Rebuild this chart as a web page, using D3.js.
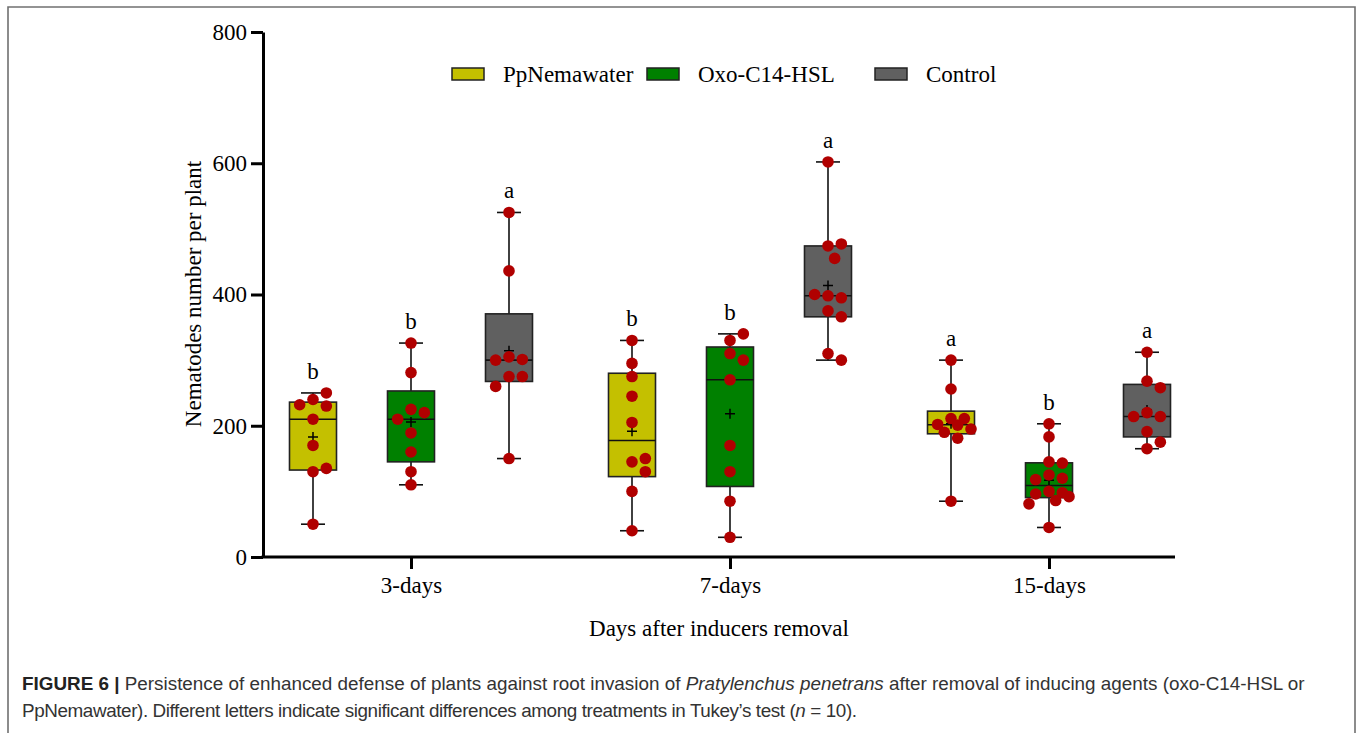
<!DOCTYPE html>
<html>
<head>
<meta charset="utf-8">
<script src="https://cdn.jsdelivr.net/npm/d3@7"></script>
<style>
  body { margin: 0; background: #fff; }
  svg text { font-family: "Liberation Serif", "Times New Roman", serif; }
</style>
</head>
<body>
<div id="chart"></div>
<script>
// categories
var days = ['3-days', '7-days', '15-days'];
var treatments = ['PpNemawater', 'Oxo-C14-HSL', 'Control'];
var yTicks = [0, 200, 400, 600, 800];

// nematodes per plant, one array per box
var pp3  = [240, 250, 232, 230, 210, 170, 130, 135, 50];
var oxo3 = [326, 281, 225, 220, 210, 189, 160, 130, 110];
var ctl3 = [525, 436, 305, 301, 300, 275, 275, 260, 150];
var pp7  = [330, 295, 275, 245, 205, 145, 150, 130, 100, 40];
var oxo7 = [330, 340, 310, 300, 270, 170, 130, 85, 30];
var ctl7 = [602, 474, 477, 455, 398, 395, 400, 375, 366, 310, 300];
var pp15  = [300, 256, 211, 211, 202, 201, 195, 190, 181, 85];
var oxo15 = [203, 183, 145, 143, 125, 120, 118, 100, 98, 96, 92, 86, 81, 45];
var ctl15 = [312, 268, 258, 220, 214, 214, 191, 175, 165];

// Tukey letters
var letters3  = ['b', 'b', 'a'];
var letters7  = ['b', 'b', 'a'];
var letters15 = ['a', 'b', 'a'];

var fills = ['#c4c000', '#008000', '#606060'];
var dotColor = '#b00000';

var groups = [
  {day: '3-days',  sets: [pp3, oxo3, ctl3],    letters: letters3},
  {day: '7-days',  sets: [pp7, oxo7, ctl7],    letters: letters7},
  {day: '15-days', sets: [pp15, oxo15, ctl15], letters: letters15}
];

var width = 1360, height = 733;
var fontSize = 23;

var svg = d3.select('#chart').append('svg')
    .attr('width', width)
    .attr('height', height);

var y = d3.scaleLinear().domain([0, 800]).range([557, 32]);
var xDay = d3.scalePoint().domain(days).range([411, 1049]);
var xTr = d3.scalePoint().domain(treatments).range([-98, 98]);

var boxW = 47, capW = 24;

// quartiles as GraphPad does them ((n+1)p rule)
function quart(s, p) {
    var n = s.length, h = (n + 1) * p - 1;
    if (h <= 0) return s[0];
    if (h >= n - 1) return s[n - 1];
    var lo = Math.floor(h);
    return s[lo] + (h - lo) * (s[lo + 1] - s[lo]);
}

// simple beeswarm, kept inside the box width
function swarm(vals, cx) {
    var step = 20 / 3, D = 12.5, placed = [];
    var offs = [0];
    for (var k = 1; k <= 3; k++) offs.push(k * step, -k * step);
    vals.forEach(function(v) {
        var py = y(v), best = null, bestD = -1;
        for (var i = 0; i < offs.length; i++) {
            var px = cx + offs[i];
            var md = d3.min(placed, function(p) { return Math.hypot(p.x - px, p.y - py); });
            if (md === undefined) md = Infinity;
            if (md >= D) { best = px; break; }
            if (md > bestD) { bestD = md; best = px; }
        }
        placed.push({x: best, y: py});
    });
    return placed;
}

// figure frame
svg.append('path')
    .attr('d', 'M8,733V7H1355V733')
    .attr('fill', 'none')
    .attr('stroke', '#707070')
    .attr('stroke-width', 1.6);

// boxes
var plot = svg.append('g');
groups.forEach(function(g) {
    g.sets.forEach(function(vals, i) {
        var cx = xDay(g.day) + xTr(treatments[i]);
        var s = vals.slice().sort(d3.ascending);
        var q1 = quart(s, 0.25), med = quart(s, 0.5), q3 = quart(s, 0.75);
        var lo = s[0], hi = s[s.length - 1], mean = d3.mean(s);
        var bg = plot.append('g');

        bg.append('line')
            .attr('x1', cx).attr('x2', cx)
            .attr('y1', y(hi)).attr('y2', y(lo))
            .attr('stroke', '#111').attr('stroke-width', 1.6);
        [lo, hi].forEach(function(v) {
            bg.append('line')
                .attr('x1', cx - capW / 2).attr('x2', cx + capW / 2)
                .attr('y1', y(v)).attr('y2', y(v))
                .attr('stroke', '#111').attr('stroke-width', 1.6);
        });
        bg.append('rect')
            .attr('x', cx - boxW / 2).attr('width', boxW)
            .attr('y', y(q3)).attr('height', y(q1) - y(q3))
            .attr('fill', fills[i])
            .attr('stroke', '#222').attr('stroke-width', 1.6);
        bg.append('line')
            .attr('x1', cx - boxW / 2).attr('x2', cx + boxW / 2)
            .attr('y1', y(med)).attr('y2', y(med))
            .attr('stroke', '#111').attr('stroke-width', 1.6);
        // mean
        bg.append('path')
            .attr('d', 'M' + (cx - 5) + ',' + y(mean) + 'h10M' + cx + ',' + (y(mean) - 5) + 'v10')
            .attr('stroke', '#000').attr('stroke-width', 1.5);

        bg.selectAll('circle')
            .data(swarm(vals, cx))
            .enter().append('circle')
            .attr('cx', function(d) { return d.x; })
            .attr('cy', function(d) { return d.y; })
            .attr('r', 5.8)
            .attr('fill', dotColor);

        bg.append('text')
            .attr('x', cx).attr('y', y(hi) - 14)
            .attr('text-anchor', 'middle')
            .attr('font-size', fontSize)
            .text(g.letters[i]);
    });
});

// axes
var yAxis = svg.append('g')
    .attr('transform', 'translate(263,0)')
    .call(d3.axisLeft(y).tickValues(yTicks).tickSize(12).tickSizeOuter(0).tickPadding(4).tickFormat(d3.format('d')));
yAxis.select('.domain').attr('stroke', '#000').attr('stroke-width', 3);
yAxis.selectAll('.tick line').attr('stroke', '#000').attr('stroke-width', 3);
yAxis.selectAll('.tick text').attr('font-size', fontSize).attr('fill', '#000')
    .attr('font-family', '"Liberation Serif", serif');

var xAxis = svg.append('g')
    .attr('transform', 'translate(0,557)')
    .call(d3.axisBottom(xDay).tickSize(12).tickPadding(8));
xAxis.select('.domain').remove();
xAxis.selectAll('.tick line').attr('stroke', '#000').attr('stroke-width', 3);
xAxis.selectAll('.tick text').attr('font-size', fontSize).attr('fill', '#000')
    .attr('font-family', '"Liberation Serif", serif');
svg.append('line')
    .attr('x1', 261.5).attr('x2', 1175)
    .attr('y1', 557).attr('y2', 557)
    .attr('stroke', '#000').attr('stroke-width', 3);

svg.append('text')
    .attr('transform', 'translate(201,294) rotate(-90)')
    .attr('text-anchor', 'middle')
    .attr('font-size', fontSize)
    .text('Nematodes number per plant');

svg.append('text')
    .attr('x', 719).attr('y', 636)
    .attr('text-anchor', 'middle')
    .attr('font-size', fontSize)
    .text('Days after inducers removal');

// legend
var legX = [452, 647, 875];
var legend = svg.append('g');
treatments.forEach(function(t, i) {
    legend.append('rect')
        .attr('x', legX[i]).attr('y', 68)
        .attr('width', 32).attr('height', 12)
        .attr('fill', fills[i])
        .attr('stroke', '#222').attr('stroke-width', 1.5);
    legend.append('text')
        .attr('x', legX[i] + 51).attr('y', 82)
        .attr('font-size', fontSize)
        .text(t);
});

// caption
var cap = svg.append('g').attr('fill', '#333');
var l1 = cap.append('text').attr('x', 22).attr('y', 690)
    .style('font-family', '"Liberation Sans", Arial, sans-serif').attr('font-size', 16);
l1.append('tspan').attr('font-weight', 'bold').attr('fill', '#222').text('FIGURE 6 | ');
l1.append('tspan').text('Persistence of enhanced defense of plants against root invasion of ');
l1.append('tspan').attr('font-style', 'italic').text('Pratylenchus penetrans');
l1.append('tspan').text(' after removal of inducing agents (oxo-C14-HSL or');
var l2 = cap.append('text').attr('x', 22).attr('y', 717)
    .style('font-family', '"Liberation Sans", Arial, sans-serif').attr('font-size', 16);
l2.append('tspan').text('PpNemawater). Different letters indicate significant differences among treatments in Tukey\u2019s test (');
l2.append('tspan').attr('font-style', 'italic').text('n');
l2.append('tspan').text(' = 10).');

// fit caption to the reference line widths
var fs = 16 * (1305 - 22) / l1.node().getComputedTextLength();
l1.attr('font-size', fs);
l2.attr('font-size', fs)
    .attr('textLength', 857 - 22)
    .attr('lengthAdjust', 'spacing');
</script>
</body>
</html>
